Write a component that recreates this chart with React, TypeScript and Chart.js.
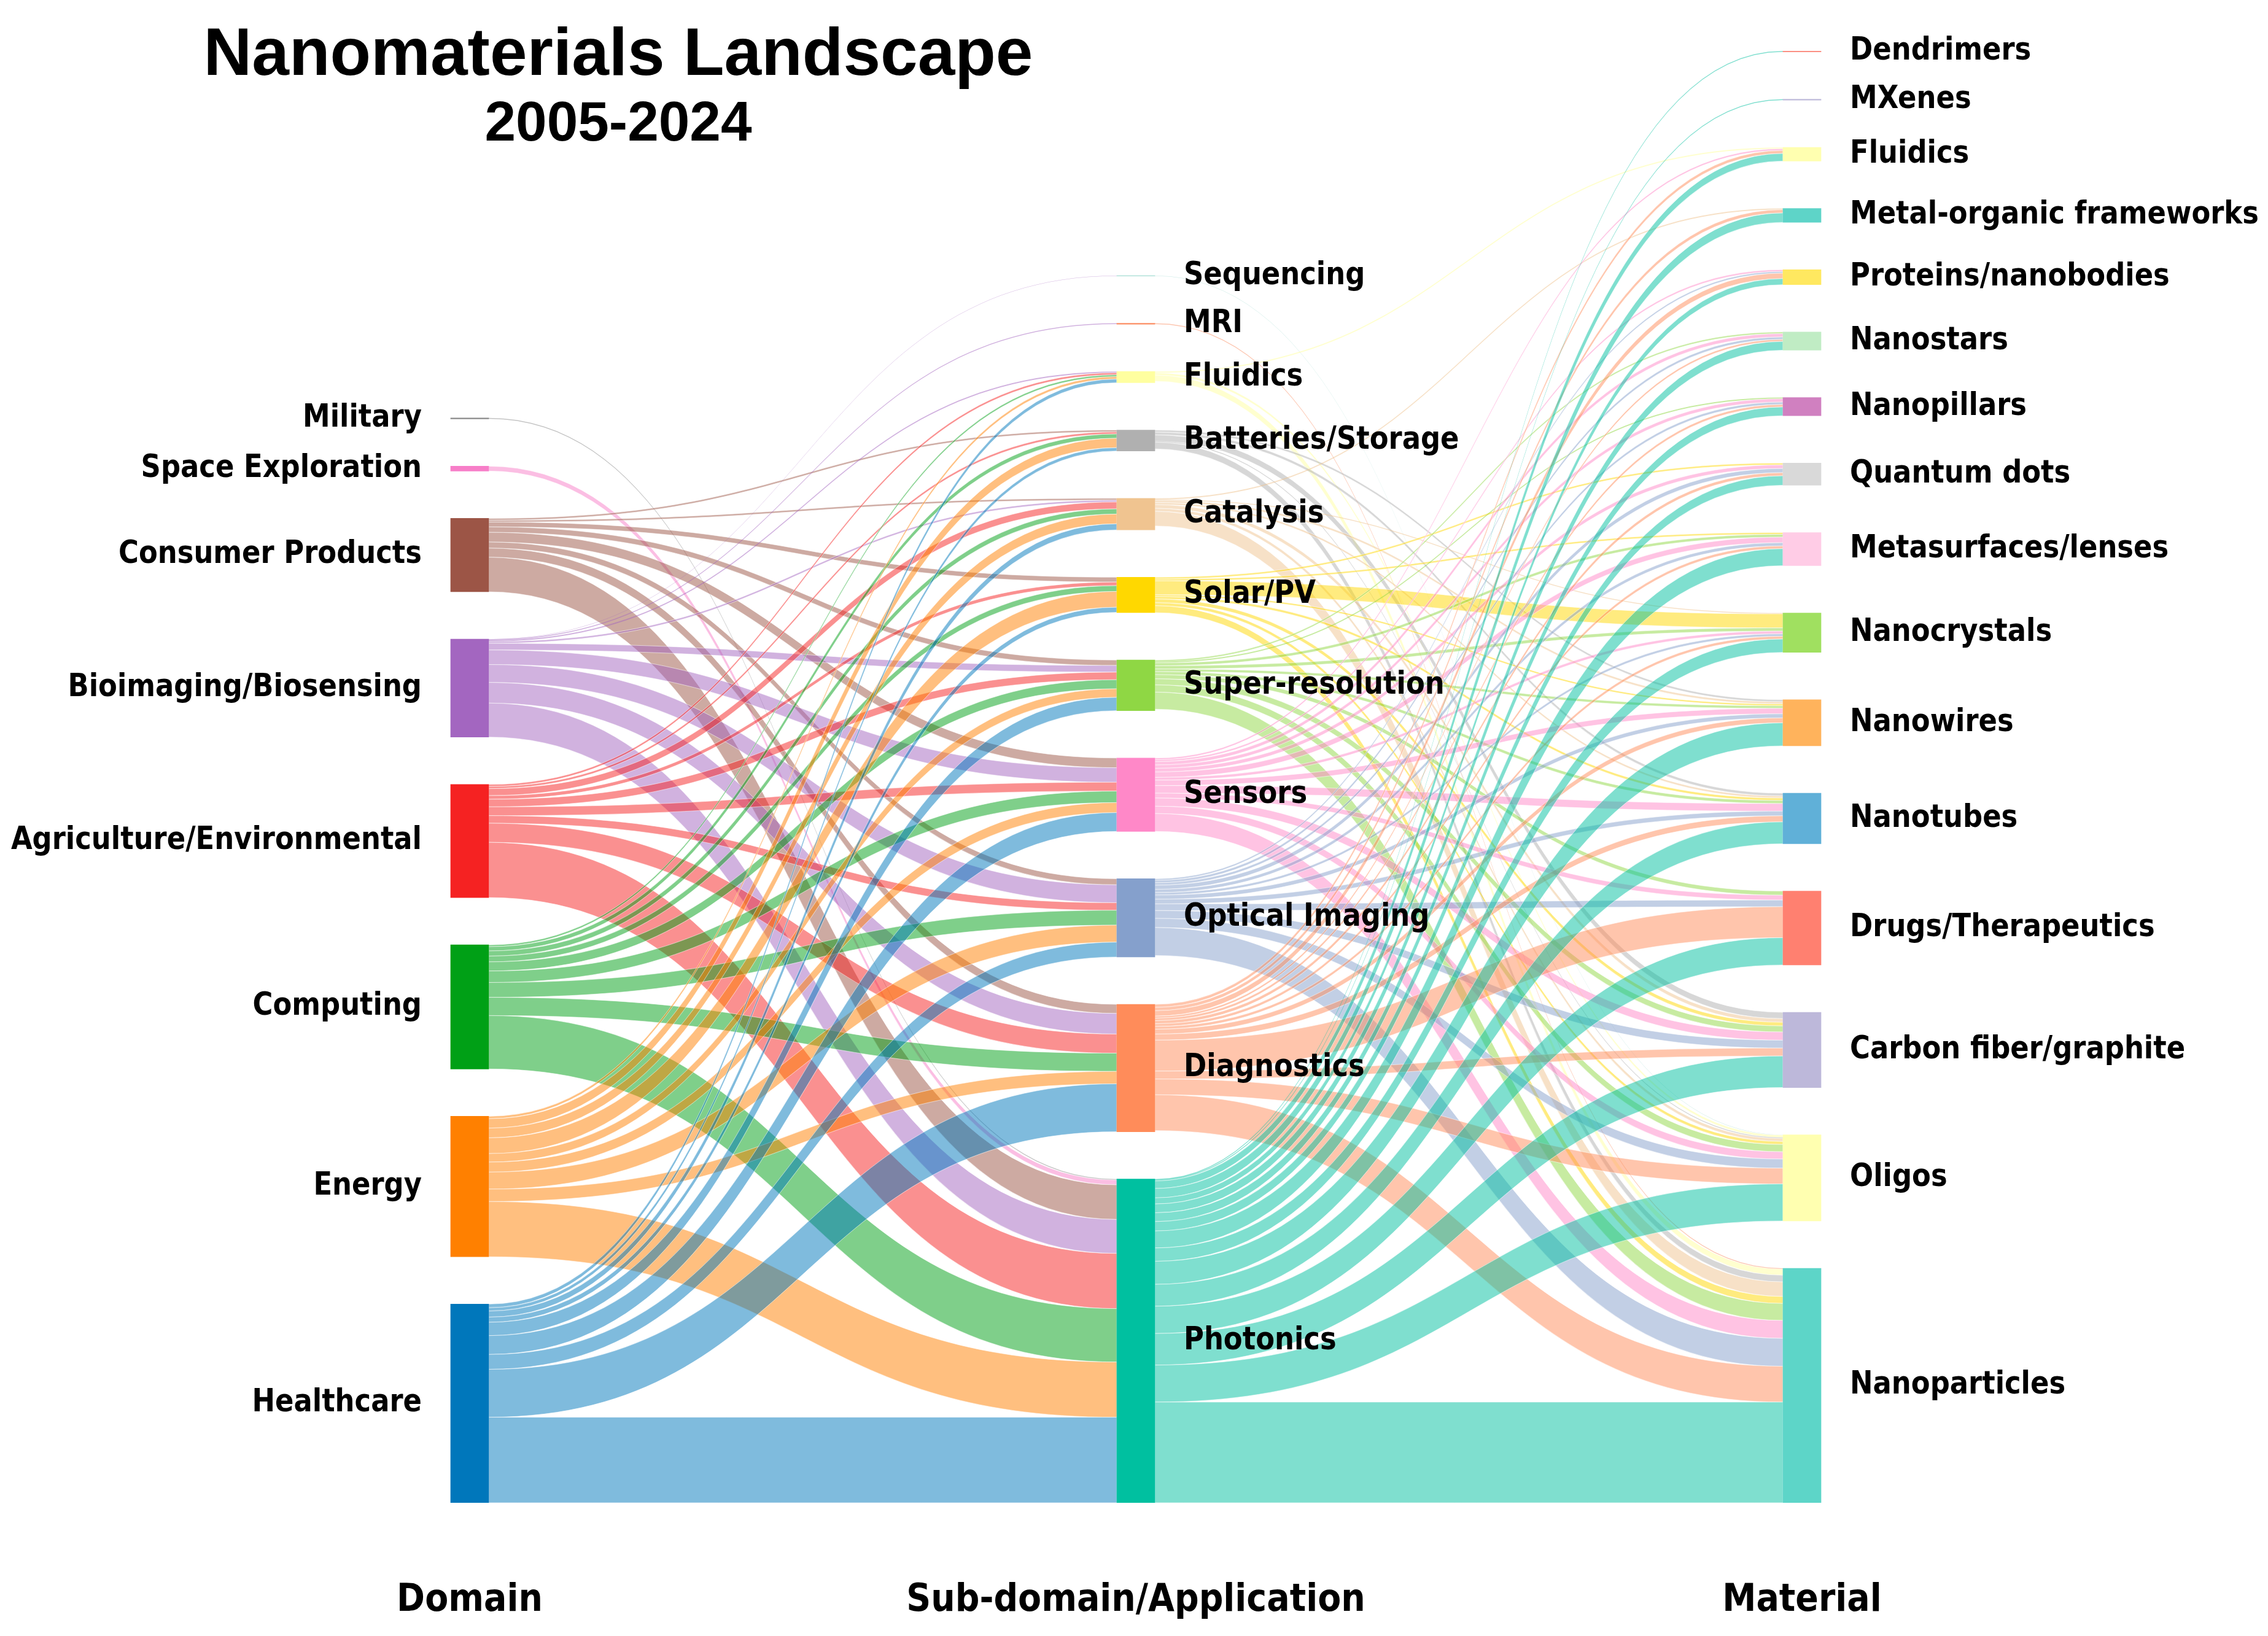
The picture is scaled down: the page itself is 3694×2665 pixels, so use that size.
import React, { useEffect, useRef } from "react";
import { Chart, registerables } from "chart.js";

Chart.register(...registerables);

// ---------------- Text ----------------
const TITLE_LINES = ["Nanomaterials Landscape", "2005-2024"];
const COLUMN_TITLES = ["Domain", "Sub-domain/Application", "Material"];

// ---------------- Nodes (top to bottom) ----------------
const DOMAINS = [
  "Military",
  "Space Exploration",
  "Consumer Products",
  "Bioimaging/Biosensing",
  "Agriculture/Environmental",
  "Computing",
  "Energy",
  "Healthcare",
];
const DOMAIN_COLORS = [
  "#8a8a8a",
  "#f77ec8",
  "#9c5546",
  "#a366c0",
  "#f52222",
  "#00a016",
  "#ff8000",
  "#0077bb",
];

const APPLICATIONS = [
  "Sequencing",
  "MRI",
  "Fluidics",
  "Batteries/Storage",
  "Catalysis",
  "Solar/PV",
  "Super-resolution",
  "Sensors",
  "Optical Imaging",
  "Diagnostics",
  "Photonics",
];
const APPLICATION_COLORS = [
  "#8dd3c7",
  "#fc8d62",
  "#ffffa0",
  "#b0b0b0",
  "#f0c490",
  "#ffd800",
  "#8fd744",
  "#ff88c8",
  "#85a0cc",
  "#ff8c5a",
  "#00c0a0",
];

const MATERIALS = [
  "Dendrimers",
  "MXenes",
  "Fluidics",
  "Metal-organic frameworks",
  "Proteins/nanobodies",
  "Nanostars",
  "Nanopillars",
  "Quantum dots",
  "Metasurfaces/lenses",
  "Nanocrystals",
  "Nanowires",
  "Nanotubes",
  "Drugs/Therapeutics",
  "Carbon fiber/graphite",
  "Oligos",
  "Nanoparticles",
];
const MATERIAL_COLORS = [
  "#fb8072",
  "#bebada",
  "#ffffb0",
  "#5ed4c8",
  "#ffe860",
  "#c0ecc4",
  "#d080c0",
  "#d9d9d9",
  "#ffcce6",
  "#a0e060",
  "#ffb35c",
  "#60b0d8",
  "#ff8070",
  "#bdb8da",
  "#ffffb0",
  "#5dd5c8",
];

// ---------------- Flows ----------------
// rows: DOMAINS, columns: APPLICATIONS
const DOMAIN_TO_APPLICATION: number[][] = [
  [0, 0, 0, 0, 0, 0, 0, 0, 0, 0, 1.5], // Military
  [0, 0, 0, 0, 0, 0, 0, 0, 0, 0, 8], // Space Exploration
  [0, 0, 0, 3, 3, 8, 9, 16, 10, 15, 57], // Consumer Products
  [0.4, 1.5, 2, 0, 3, 0, 11, 24, 29.5, 34, 56], // Bioimaging/Biosensing
  [0, 0, 3.5, 3.5, 11.5, 6, 12.5, 14.5, 12.5, 31.5, 91], // Agriculture/Environmental
  [0, 0, 3, 7, 8.5, 9.5, 15, 19, 24.5, 30, 88], // Computing
  [0, 0, 4, 15.5, 16, 26, 14, 16.5, 28, 20.5, 91], // Energy
  [0, 0, 6, 5.5, 10, 8.5, 22, 31, 24.5, 79, 141], // Healthcare
];

// rows: APPLICATIONS, columns: MATERIALS
const APPLICATION_TO_MATERIAL: number[][] = [
  [0, 0, 0, 0, 0, 0, 0, 0, 0, 0, 0, 0, 0, 0, 0.4, 0], // Sequencing
  [0, 0, 0, 0, 0, 0, 0, 0, 0, 0, 0, 0, 0, 0, 0, 1.5], // MRI
  [0, 0, 2, 0, 0, 0, 0, 0, 0, 0, 0, 0, 0, 0, 4, 10], // Fluidics
  [0, 0, 0, 0, 0, 0, 0, 0, 0, 0, 3.5, 4.5, 0, 10.5, 1.5, 11], // Batteries/Storage
  [0, 0, 0, 2, 0, 0, 0, 0, 0, 1.5, 3.5, 3.5, 0, 6, 5, 24], // Catalysis
  [0, 0, 0, 0, 0, 0, 0, 3, 3, 23, 3, 4, 0, 6, 5, 11.5], // Solar/PV
  [0, 0, 0, 0, 0, 2.7, 2, 0, 4.7, 5.4, 4.3, 5.1, 6.8, 10, 12, 28], // Super-resolution
  [0, 0, 3, 0, 3, 5.5, 5.5, 6, 9, 4.5, 9, 12.5, 8, 13.5, 12, 29.5], // Sensors
  [0, 0, 0, 0, 2.7, 4, 4, 6.8, 5.4, 4, 6.8, 7.7, 11, 13, 15, 46], // Optical Imaging
  [0, 0, 5, 5.5, 9, 3.3, 4, 5.2, 4.5, 4.5, 8, 10, 51, 13, 26, 59], // Diagnostics
  [1.5, 1.5, 12.5, 15.5, 10, 14.5, 14.5, 15.5, 28, 22, 38, 36, 45, 52, 61, 166], // Photonics
];

// ---------------- Style constants ----------------
const W = 3694;
const H = 2665;
const NODE_PAD = 78; // gap between nodes, in value units
const NODE_WIDTH_PX = 62;
const LABEL_GAP_PX = 47;
const LINK_ALPHA = 0.5;
const LABEL_FONT = "bold 51px 'DejaVu Sans'";
const COLUMN_FONT = "bold 63px 'DejaVu Sans'";
const TEXT_SQUEEZE = 0.88;

// ---------------- Layout in value units ----------------
const sum = (a: number[]) => a.reduce((s, v) => s + v, 0);
const domainValues = DOMAIN_TO_APPLICATION.map((r) => sum(r));
const appIn = APPLICATIONS.map((_, j) => sum(DOMAIN_TO_APPLICATION.map((r) => r[j])));
const appOut = APPLICATION_TO_MATERIAL.map((r) => sum(r));
const appValues = appIn.map((v, j) => Math.max(v, appOut[j]));
const materialValues = MATERIALS.map((_, m) => sum(APPLICATION_TO_MATERIAL.map((r) => r[m])));

type NodeGeo = { col: number; y0: number; y1: number; outCur: number; inCur: number; label: string; color: string };

function layoutColumn(values: number[], labels: string[], colors: string[], col: number): NodeGeo[] {
  const nodes: NodeGeo[] = values.map((v, i) => ({ col, y0: 0, y1: 0, outCur: 0, inCur: 0, label: labels[i], color: colors[i] }));
  let cur = 0;
  for (let i = values.length - 1; i >= 0; i--) {
    nodes[i].y0 = cur;
    nodes[i].y1 = cur + values[i];
    nodes[i].outCur = nodes[i].y1;
    nodes[i].inCur = nodes[i].y1;
    cur = nodes[i].y1 + NODE_PAD;
  }
  return nodes;
}

const COLUMNS: NodeGeo[][] = [
  layoutColumn(domainValues, DOMAINS, DOMAIN_COLORS, 0),
  layoutColumn(appValues, APPLICATIONS, APPLICATION_COLORS, 1),
  layoutColumn(materialValues, MATERIALS, MATERIAL_COLORS, 2),
];

const YMAX = Math.max(
  ...COLUMNS.map((c) => sum(c.map((n) => n.y1 - n.y0)) + (c.length - 1) * NODE_PAD)
);

type LinkGeo = { c0: number; c1: number; sTop: number; sBot: number; tTop: number; tBot: number; color: string };

function buildLinks(matrix: number[][], src: NodeGeo[], tgt: NodeGeo[]): LinkGeo[] {
  const links: LinkGeo[] = [];
  const grid: (LinkGeo | null)[][] = matrix.map((row) => row.map(() => null));
  matrix.forEach((row, i) => {
    row.forEach((v, j) => {
      if (v <= 0) return;
      const s = src[i];
      const l: LinkGeo = {
        c0: s.col,
        c1: tgt[j].col,
        sTop: s.outCur,
        sBot: s.outCur - v,
        tTop: 0,
        tBot: 0,
        color: s.color,
      };
      s.outCur -= v;
      grid[i][j] = l;
      links.push(l);
    });
  });
  tgt.forEach((t, j) => {
    matrix.forEach((row, i) => {
      const l = grid[i][j];
      if (!l) return;
      l.tTop = t.inCur;
      l.tBot = t.inCur - row[j];
      t.inCur -= row[j];
    });
  });
  return links;
}

const LINKS: LinkGeo[] = [
  ...buildLinks(DOMAIN_TO_APPLICATION, COLUMNS[0], COLUMNS[1]),
  ...buildLinks(APPLICATION_TO_MATERIAL, COLUMNS[1], COLUMNS[2]),
];

function rgba(hex: string, a: number) {
  const h = hex.replace("#", "");
  const r = parseInt(h.slice(0, 2), 16);
  const g = parseInt(h.slice(2, 4), 16);
  const b = parseInt(h.slice(4, 6), 16);
  return `rgba(${r},${g},${b},${a})`;
}

function drawText(
  ctx: CanvasRenderingContext2D,
  text: string,
  x: number,
  y: number,
  font: string,
  align: CanvasTextAlign,
  baseline: CanvasTextBaseline,
  sx: number
) {
  ctx.save();
  ctx.font = font;
  ctx.fillStyle = "#000";
  ctx.textAlign = align;
  ctx.textBaseline = baseline;
  ctx.translate(x, y);
  ctx.scale(sx, 1);
  ctx.fillText(text, 0, 0);
  ctx.restore();
}

const sankeyPlugin = {
  id: "sankeyLinks",
  beforeDatasetsDraw(chart: any) {
    const ctx: CanvasRenderingContext2D = chart.ctx;
    const xs = chart.scales.x;
    const ys = chart.scales.y;
    const half = NODE_WIDTH_PX / 2;
    ctx.save();
    for (const l of LINKS) {
      const x0 = xs.getPixelForValue(l.c0) + half;
      const x1 = xs.getPixelForValue(l.c1) - half;
      const xm = (x0 + x1) / 2;
      const a = ys.getPixelForValue(l.sTop);
      const b = ys.getPixelForValue(l.tTop);
      const c = ys.getPixelForValue(l.tBot);
      const d = ys.getPixelForValue(l.sBot);
      ctx.beginPath();
      ctx.moveTo(x0, a);
      ctx.bezierCurveTo(xm, a, xm, b, x1, b);
      ctx.lineTo(x1, c);
      ctx.bezierCurveTo(xm, c, xm, d, x0, d);
      ctx.closePath();
      ctx.fillStyle = rgba(l.color, LINK_ALPHA);
      ctx.fill();
      if (d - a > 2) {
        ctx.strokeStyle = "rgba(255,255,255,0.55)";
        ctx.lineWidth = 1;
        ctx.stroke();
      }
    }
    ctx.restore();
  },
  afterDatasetsDraw(chart: any) {
    const ctx: CanvasRenderingContext2D = chart.ctx;
    const xs = chart.scales.x;
    const ys = chart.scales.y;
    const half = NODE_WIDTH_PX / 2;
    COLUMNS.forEach((col, ci) => {
      const cx = xs.getPixelForValue(ci);
      col.forEach((n) => {
        const y = ys.getPixelForValue((n.y0 + n.y1) / 2);
        if (ci === 0) {
          drawText(ctx, n.label, cx - half - LABEL_GAP_PX, y, LABEL_FONT, "right", "middle", TEXT_SQUEEZE);
        } else {
          drawText(ctx, n.label, cx + half + LABEL_GAP_PX, y, LABEL_FONT, "left", "middle", TEXT_SQUEEZE);
        }
      });
      drawText(ctx, COLUMN_TITLES[ci], cx, 2624, COLUMN_FONT, "center", "alphabetic", TEXT_SQUEEZE);
    });
    drawText(ctx, TITLE_LINES[0], 1007, 122, "bold 109px 'Liberation Sans', Arial", "center", "alphabetic", 1);
    drawText(ctx, TITLE_LINES[1], 1007, 229, "bold 91px 'Liberation Sans', Arial", "center", "alphabetic", 1);
  },
};

export default function App() {
  const ref = useRef<HTMLCanvasElement>(null);
  useEffect(() => {
    const datasets: any[] = [];
    COLUMNS.forEach((col, ci) => {
      col.forEach((n) => {
        const data: any[] = [null, null, null];
        data[ci] = [n.y0, n.y1];
        datasets.push({
          label: n.label,
          data,
          backgroundColor: n.color,
          borderWidth: 0,
          grouped: false,
          barThickness: NODE_WIDTH_PX,
          skipNull: true,
        });
      });
    });
    const chart = new Chart(ref.current as HTMLCanvasElement, {
      type: "bar",
      data: { labels: COLUMN_TITLES, datasets },
      options: {
        animation: false,
        responsive: true,
        maintainAspectRatio: false,
        events: [],
        layout: { padding: { left: 222.5, right: 216.5, top: 83, bottom: 217 } },
        plugins: {
          legend: { display: false },
          tooltip: { enabled: false },
          title: { display: false },
        },
        scales: {
          x: { type: "category", display: false, offset: true, grid: { display: false } },
          y: { type: "linear", display: false, min: 0, max: YMAX },
        },
      } as any,
      plugins: [sankeyPlugin],
    });
    return () => chart.destroy();
  }, []);
  return (
    <div style={{ position: "fixed", left: 0, top: 0, width: W, height: H, background: "#ffffff" }}>
      <canvas ref={ref} />
    </div>
  );
}
